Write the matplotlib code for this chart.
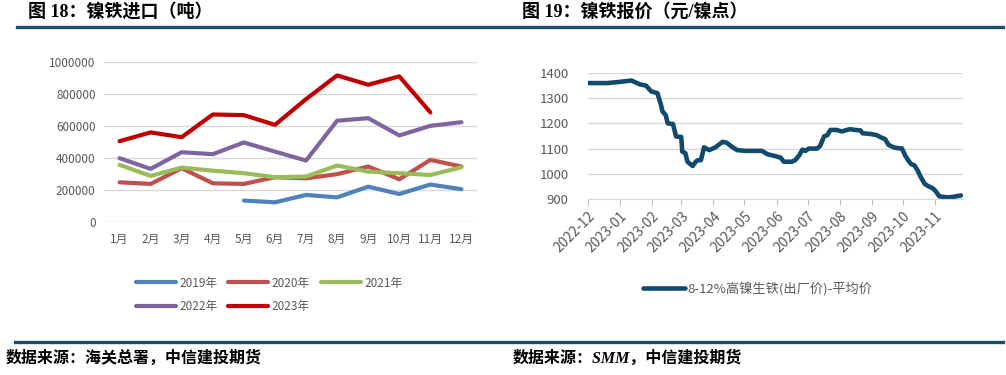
import numpy as np
import pandas as pd
import matplotlib.pyplot as plt
import matplotlib.dates as mdates
from matplotlib.lines import Line2D

plt.rcParams['font.family'] = ['Noto Sans CJK SC', 'DejaVu Sans']

# === Fig 18 data: nickel pig iron imports (tonnes) ===
months = ['1月', '2月', '3月', '4月', '5月', '6月', '7月', '8月', '9月', '10月', '11月', '12月']
imp_2019 = [np.nan, np.nan, np.nan, np.nan, 134000, 123000, 169000, 154000, 221000, 175000, 234000, 205000]
imp_2020 = [248000, 238000, 336000, 242000, 238000, 280000, 273000, 299000, 347000, 267000, 388000, 347000]
imp_2021 = [357000, 288000, 340000, 321000, 305000, 280000, 284000, 353000, 315000, 305000, 294000, 342000]
imp_2022 = [399000, 332000, 436000, 424000, 497000, 440000, 384000, 633000, 649000, 541000, 601000, 624000]
imp_2023 = [505000, 560000, 530000, 672000, 668000, 607000, 768000, 916000, 858000, 910000, 685000, np.nan]

# === Fig 19 data: 8-12% NPI ex-works average price ===
price_dates = ['2022-12-01', '2022-12-20', '2023-01-01', '2023-01-12', '2023-01-20', '2023-01-26',
               '2023-01-31', '2023-02-06', '2023-02-09', '2023-02-11', '2023-02-14', '2023-02-16',
               '2023-02-21', '2023-02-24', '2023-03-01', '2023-03-02', '2023-03-05', '2023-03-07',
               '2023-03-12', '2023-03-15', '2023-03-17', '2023-03-20', '2023-03-23', '2023-03-28',
               '2023-04-03', '2023-04-10', '2023-04-14', '2023-04-19', '2023-04-24', '2023-05-02',
               '2023-05-18', '2023-05-23', '2023-05-31', '2023-06-05', '2023-06-08', '2023-06-16',
               '2023-06-19', '2023-06-23', '2023-06-26', '2023-06-29', '2023-07-02', '2023-07-10',
               '2023-07-13', '2023-07-17', '2023-07-20', '2023-07-23', '2023-07-29', '2023-08-03',
               '2023-08-08', '2023-08-11', '2023-08-16', '2023-08-21', '2023-08-23', '2023-08-31',
               '2023-09-06', '2023-09-09', '2023-09-14', '2023-09-17', '2023-09-22', '2023-09-27',
               '2023-09-30', '2023-10-03', '2023-10-06', '2023-10-09', '2023-10-12', '2023-10-15',
               '2023-10-18', '2023-10-22', '2023-10-25', '2023-10-30', '2023-11-02', '2023-11-05',
               '2023-11-13', '2023-11-19', '2023-11-26']
price_vals = [1360, 1360, 1365, 1370, 1355, 1350,
              1327, 1320, 1280, 1247, 1233, 1200,
              1198, 1148, 1146, 1088, 1082, 1048,
              1031, 1048, 1054, 1054, 1105, 1094,
              1105, 1127, 1123, 1107, 1094, 1091,
              1091, 1078, 1070, 1064, 1048, 1048,
              1054, 1074, 1096, 1091, 1100, 1100,
              1110, 1149, 1153, 1174, 1174, 1168,
              1174, 1177, 1174, 1172, 1161, 1158,
              1153, 1146, 1137, 1115, 1105, 1101,
              1101, 1074, 1054, 1038, 1034, 1015,
              989, 960, 952, 942, 929, 911,
              906, 909, 914]

W, H = 1006, 375
fig = plt.figure(figsize=(W / 100, H / 100), dpi=100)

rule_color = '#1b4d6b'
tick_color = '#595959'
grid_color = '#d9d9d9'

# === Titles and rules ===
title_font = ['Liberation Serif', 'Noto Sans CJK SC']
fig.text(28 / W, 1 - 12 / H, '图 18：镍铁进口（吨）', family=title_font, fontsize=13,
         fontweight='bold', va='center', ha='left')
fig.text(522 / W, 1 - 12 / H, '图 19：镍铁报价（元/镍点）', family=title_font, fontsize=13,
         fontweight='bold', va='center', ha='left')
fig.add_artist(Line2D([17 / W, 1003 / W], [1 - 26.5 / H, 1 - 26.5 / H], color=rule_color, lw=2.4))
fig.add_artist(Line2D([15 / W, 1003 / W], [1 - 342 / H, 1 - 342 / H], color=rule_color, lw=2.4))
fig.text(6 / W, 1 - 359 / H, '数据来源：海关总署，中信建投期货', family=title_font, fontsize=11.5,
         fontweight='bold', style='italic', va='center', ha='left')
fig.text(513 / W, 1 - 359 / H, '数据来源：SMM，中信建投期货', family=title_font, fontsize=11.5,
         fontweight='bold', style='italic', va='center', ha='left')

# === Left chart ===
ax1 = fig.add_axes([104 / W, 1 - 222 / H, 373 / W, 160 / H])
x = np.arange(len(months))
series = [('2019年', imp_2019, '#4f81bd'), ('2020年', imp_2020, '#c0504d'),
          ('2021年', imp_2021, '#9bbb59'), ('2022年', imp_2022, '#8064a2'),
          ('2023年', imp_2023, '#c00000')]
handles = {}
for name, vals, col in series:
    ln, = ax1.plot(x, vals, color=col, lw=3.0, label=name, solid_joinstyle='round',
                   solid_capstyle='round')
    handles[name] = ln
ax1.set_xlim(-0.5, len(months) - 0.5)
ax1.set_ylim(0, 1000000)
ax1.set_yticks(np.arange(0, 1000001, 200000))
ax1.set_yticklabels([str(v) for v in range(0, 1000001, 200000)])
ax1.set_xticks(x)
ax1.set_xticklabels(months)
ax1.grid(axis='y', color=grid_color, lw=1)
ax1.set_axisbelow(True)
for s in ax1.spines.values():
    s.set_visible(False)
ax1.tick_params(length=0, colors=tick_color, labelsize=8.5)
ax1.tick_params(axis='y', pad=6)
ax1.tick_params(axis='x', pad=8)
order = ['2019年', '2022年', '2020年', '2023年', '2021年']
ax1.legend([handles[k] for k in order], order, ncol=3, frameon=False,
           loc='upper left', bbox_to_anchor=(125 / W, 1 - 266 / H), bbox_transform=fig.transFigure,
           fontsize=8.5, handlelength=3.4, handletextpad=0.3, columnspacing=0.9,
           labelspacing=0.9, labelcolor=tick_color)

# === Right chart ===
ax2 = fig.add_axes([588 / W, 1 - 199 / H, 375 / W, 126 / H])
dates = pd.to_datetime(price_dates)
ax2.plot(dates, price_vals, color='#124a6f', lw=3.3, solid_joinstyle='round',
         solid_capstyle='round', label='8-12%高镍生铁(出厂价)-平均价')
ax2.set_xlim(pd.Timestamp('2022-12-01'), pd.Timestamp('2023-11-28'))
ax2.set_ylim(900, 1400)
ax2.set_yticks(range(900, 1401, 100))
ax2.xaxis.set_major_locator(mdates.MonthLocator())
ax2.xaxis.set_major_formatter(mdates.DateFormatter('%Y-%m'))
ax2.grid(axis='y', color=grid_color, lw=1)
ax2.set_axisbelow(True)
for k in ['top', 'right', 'left']:
    ax2.spines[k].set_visible(False)
ax2.spines['bottom'].set_color(grid_color)
ax2.tick_params(axis='y', length=0, colors=tick_color, labelsize=9.5, pad=14)
ax2.tick_params(axis='x', direction='out', length=4, color='#bfbfbf', labelcolor=tick_color,
                labelsize=10, pad=3)
for lab in ax2.get_xticklabels():
    lab.set_rotation(45)
    lab.set_ha('right')
    lab.set_rotation_mode('anchor')
ax2.legend(loc='center left', bbox_to_anchor=(643 / W, 1 - 289 / H), bbox_transform=fig.transFigure,
           frameon=False, fontsize=9.5, handlelength=3.2, handletextpad=0.2, labelcolor=tick_color,
           borderaxespad=0, borderpad=0)

fig.savefig('out.png', dpi=100)
